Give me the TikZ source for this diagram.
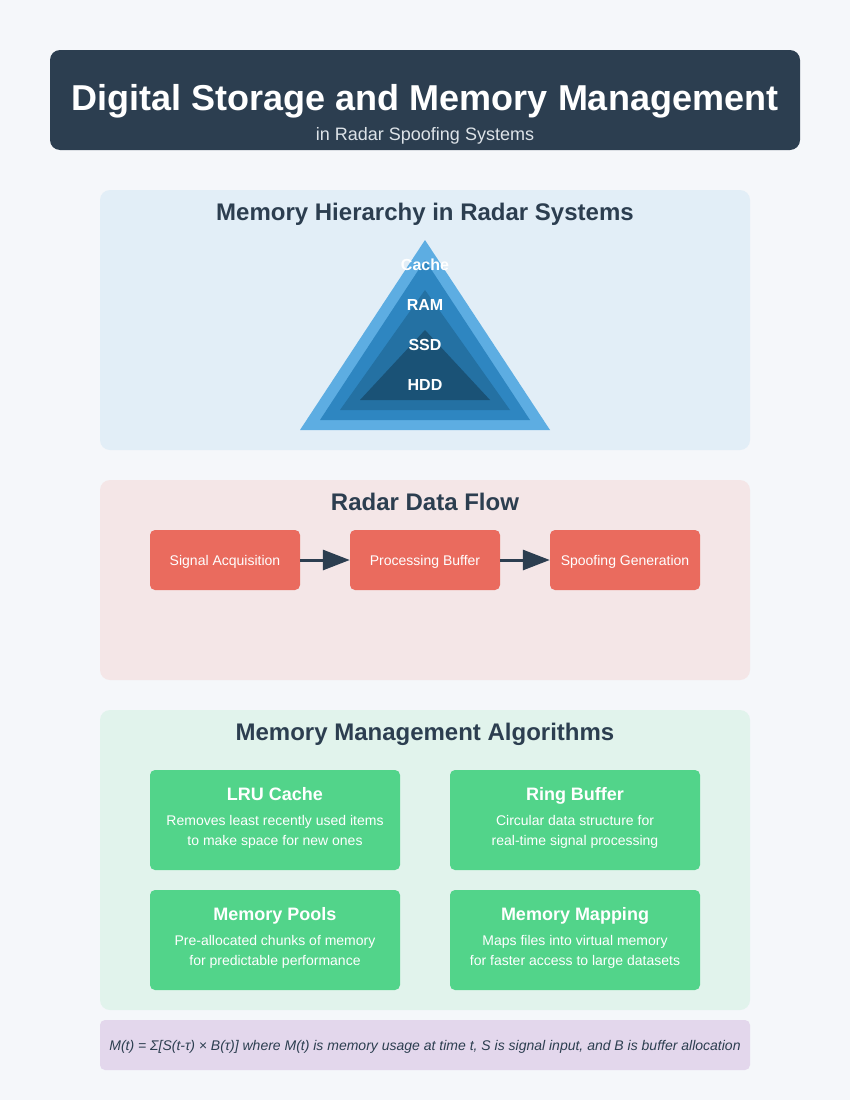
\documentclass[tikz,border=0pt]{standalone}
\usepackage{fontspec}
\setmainfont{Liberation Sans}
\usetikzlibrary{arrows.meta}
\definecolor{pagebg}{HTML}{F5F7FA}
\definecolor{navy}{HTML}{2C3E50}
\definecolor{subgray}{HTML}{DDE3E8}
\definecolor{hierbg}{HTML}{E2EEF7}
\definecolor{flowbg}{HTML}{F4E6E7}
\definecolor{algbg}{HTML}{E1F3EC}
\definecolor{formbg}{HTML}{E3D7EC}
\definecolor{flowfill}{HTML}{EA6B5E}
\definecolor{algfill}{HTML}{52D48A}
\definecolor{layerA}{HTML}{5DADE2}
\definecolor{layerB}{HTML}{2E86C1}
\definecolor{layerC}{HTML}{2471A3}
\definecolor{layerD}{HTML}{1A5276}
\begin{document}
\begin{tikzpicture}[x=1pt, y=-1pt,
    heading/.style={font=\fontsize{24}{28}\selectfont\bfseries, text=navy, anchor=base},
    level/.style={font=\fontsize{16}{19}\selectfont\bfseries, text=white, anchor=base},
    flowstep/.style={fill=flowfill, rounded corners=5pt, minimum width=150pt, minimum height=60pt,
      inner sep=0pt, text height=10pt, text depth=0pt, text=white, font=\fontsize{14}{17}\selectfont},
    algbox/.style={fill=algfill, rounded corners=5pt, minimum width=250pt, minimum height=100pt, inner sep=0pt},
    algname/.style={font=\fontsize{18}{22}\selectfont\bfseries, text=white, anchor=base},
    algtext/.style={font=\fontsize{14}{17}\selectfont, text=white, anchor=base},
    flowarrow/.style={navy, line width=3pt, -{Triangle[length=27pt, width=20pt]}}]
    \useasboundingbox (0, 0) rectangle (850, 1100);
    \fill [pagebg] (0, 0) rectangle (850, 1100);

    \fill [navy, rounded corners=10pt] (50, 50) rectangle (800, 150);
    \node [anchor=base, text=white, font=\fontsize{36}{43}\selectfont\bfseries] (title) at (425, 110) {Digital Storage and Memory Management};
    \node [anchor=base, text=subgray, font=\fontsize{18}{22}\selectfont] (subtitle) at (425, 140) {in Radar Spoofing Systems};

    \fill [hierbg, rounded corners=10pt] (100, 190) rectangle (750, 450);
    \node [heading] (hiertitle) at (425, 220) {Memory Hierarchy in Radar Systems};
    \fill [layerA] (425, 240) -- (300, 430) -- (550, 430) -- cycle;
    \fill [layerB] (425, 260) -- (320, 420) -- (530, 420) -- cycle;
    \fill [layerC] (425, 290) -- (340, 410) -- (510, 410) -- cycle;
    \fill [layerD] (425, 330) -- (360, 400) -- (490, 400) -- cycle;
    \node [level] (cache) at (425, 270) {Cache};
    \node [level] (ram) at (425, 310) {RAM};
    \node [level] (ssd) at (425, 350) {SSD};
    \node [level] (hdd) at (425, 390) {HDD};

    \fill [flowbg, rounded corners=10pt] (100, 480) rectangle (750, 680);
    \node [heading] (flowtitle) at (425, 510) {Radar Data Flow};
    \node [flowstep] (acq) at (225, 560) {Signal Acquisition};
    \node [flowstep] (buf) at (425, 560) {Processing Buffer};
    \node [flowstep] (gen) at (625, 560) {Spoofing Generation};
    \draw [flowarrow] (acq) -- (buf);
    \draw [flowarrow] (buf) -- (gen);

    \fill [algbg, rounded corners=10pt] (100, 710) rectangle (750, 1010);
    \node [heading] (algtitle) at (425, 740) {Memory Management Algorithms};
    \node [algbox] (lru) at (275, 820) {};
    \node [algbox] (ring) at (575, 820) {};
    \node [algbox] (pools) at (275, 940) {};
    \node [algbox] (mapping) at (575, 940) {};
    \node [algname] (lruname) at (275, 800) {LRU Cache};
    \node [algtext] (lrua) at (275, 825) {Removes least recently used items};
    \node [algtext] (lrub) at (275, 845) {to make space for new ones};
    \node [algname] (ringname) at (575, 800) {Ring Buffer};
    \node [algtext] (ringa) at (575, 825) {Circular data structure for};
    \node [algtext] (ringb) at (575, 845) {real-time signal processing};
    \node [algname] (poolsname) at (275, 920) {Memory Pools};
    \node [algtext] (poolsa) at (275, 945) {Pre-allocated chunks of memory};
    \node [algtext] (poolsb) at (275, 965) {for predictable performance};
    \node [algname] (mappingname) at (575, 920) {Memory Mapping};
    \node [algtext] (mappinga) at (575, 945) {Maps files into virtual memory};
    \node [algtext] (mappingb) at (575, 965) {for faster access to large datasets};

    \fill [formbg, rounded corners=5pt] (100, 1020) rectangle (750, 1070);
    \node [anchor=base, text=navy, font=\fontsize{14}{17}\selectfont\itshape] (formula) at (425, 1050)
      {M(t) = Σ[S(t-τ) × B(τ)] where M(t) is memory usage at time t, S is signal input, and B is buffer allocation};
\end{tikzpicture}
\end{document}
